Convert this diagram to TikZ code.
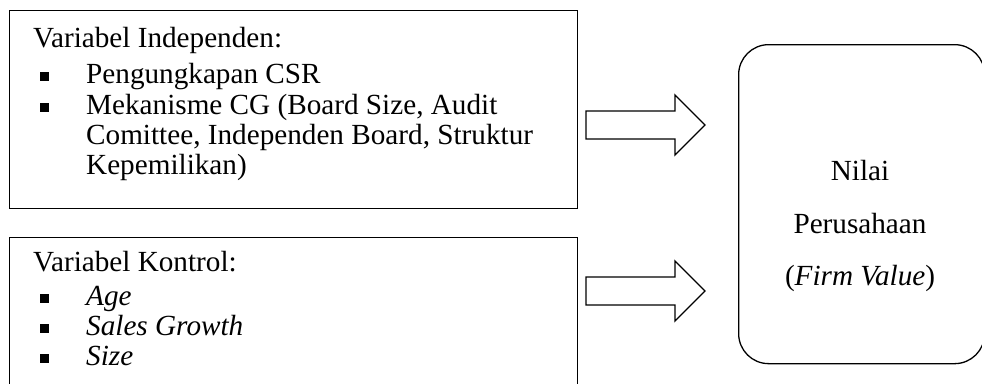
\documentclass[tikz,border=0pt]{standalone}
\usepackage{fontspec}
\setmainfont{Liberation Serif}
\begin{document}
\begin{tikzpicture}[
    x=1pt, y=-1pt,
    box/.style={draw, line width=1.3pt, inner sep=0pt, anchor=north west},
    txt/.style={inner sep=0pt, anchor=base west, font=\fontsize{29.2}{30}\selectfont},
    ctxt/.style={txt, anchor=base},
    bul/.style={fill, inner sep=0pt, minimum size=9pt},
    blockarrow/.style={draw, line width=1.3pt, fill=white, line join=miter},
  ]
  \useasboundingbox (0,0) rectangle (982,383);
  \clip (0,0) rectangle (982,383);

  % Boxes
  \node[box, minimum width=568pt, minimum height=198pt] (indep) at (9,10) {};
  \node[box, minimum width=568pt, minimum height=170pt] (kontrol) at (9,237) {};
  \node[box, rounded corners=30pt, minimum width=246pt, minimum height=319pt] (firm) at (738,44) {};

  % Independent variables
  \node[txt] (ind0) at (33,47) {Variabel Independen:};
  \node[txt] (ind1) at (86,83) {Pengungkapan CSR};
  \node[txt] (ind2) at (86,114) {Mekanisme CG (Board Size, Audit};
  \node[txt] (ind3) at (86,144) {Comittee, Independen Board, Struktur};
  \node[txt] (ind4) at (86,174) {Kepemilikan)};
  \node[bul] (bi1) at (44.5,76) {};
  \node[bul] (bi2) at (44.5,107) {};

  % Control variables
  \node[txt] (kon0) at (33,271) {Variabel Kontrol:};
  \node[txt] (kon1) at (86,305) {\textit{Age}};
  \node[txt] (kon2) at (86,335) {\textit{Sales Growth}};
  \node[txt] (kon3) at (86,365) {\textit{Size}};
  \node[bul] (bk1) at (44.5,298) {};
  \node[bul] (bk2) at (44.5,328) {};
  \node[bul] (bk3) at (44.5,358) {};

  % Dependent variable
  \node[ctxt] (dep1) at (860,180) {Nilai};
  \node[ctxt] (dep2) at (860,233) {Perusahaan};
  \node[ctxt] (dep3) at (860,285) {(\textit{Firm Value})};

  % Block arrows
  \coordinate (tipA) at (705,125);
  \coordinate (tipB) at (705,291);
  \draw[blockarrow] (tipA) -- ++(-30,-30) -- ++(0,16) -- ++(-89,0) -- ++(0,28)
    -- ++(89,0) -- ++(0,16) -- cycle;
  \draw[blockarrow] (tipB) -- ++(-30,-30) -- ++(0,16) -- ++(-89,0) -- ++(0,28)
    -- ++(89,0) -- ++(0,16) -- cycle;
\end{tikzpicture}
\end{document}
